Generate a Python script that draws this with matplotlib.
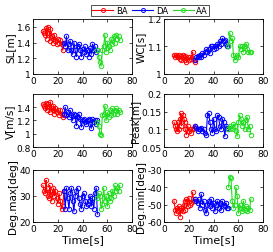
import numpy as np
import matplotlib.pyplot as plt

t_ba = [8, 9, 10, 10.5, 11, 12, 13, 13.5, 14, 15, 16, 16.5, 17, 18, 19, 20, 21, 22, 23, 24, 25]
t_da = [25, 26, 27, 28, 29, 30, 31, 32, 33, 34, 35, 36, 37, 38, 39, 40, 41, 42, 43, 44, 45, 46, 47, 48, 49, 50, 51, 52]
t_aa = [52, 53, 54, 55, 56, 57, 58, 59, 60, 61, 62, 63, 64, 65, 66, 67, 68, 69, 70]

sl_ba = [1.55, 1.52, 1.5, 1.58, 1.45, 1.6, 1.52, 1.42, 1.57, 1.48, 1.45, 1.4, 1.5, 1.42, 1.38, 1.45, 1.4, 1.43, 1.38, 1.3, 1.4]
sl_da = [1.4, 1.35, 1.48, 1.3, 1.38, 1.42, 1.3, 1.25, 1.4, 1.3, 1.22, 1.35, 1.38, 1.3, 1.22, 1.32, 1.28, 1.35, 1.25, 1.3, 1.22, 1.33, 1.25, 1.38, 1.3, 1.35, 1.28, 1.3]
sl_aa = [1.3, 1.22, 1.15, 1.1, 1.3, 1.35, 1.5, 1.28, 1.4, 1.35, 1.3, 1.45, 1.38, 1.48, 1.4, 1.5, 1.45, 1.48, 1.43]

wc_ba = [1.07, 1.06, 1.07, 1.065, 1.06, 1.07, 1.055, 1.065, 1.05, 1.07, 1.06, 1.05, 1.065, 1.045, 1.06, 1.05, 1.06, 1.055, 1.08, 1.05, 1.045]
wc_da = [1.05, 1.06, 1.065, 1.06, 1.07, 1.06, 1.075, 1.07, 1.08, 1.09, 1.08, 1.09, 1.075, 1.1, 1.1, 1.09, 1.1, 1.095, 1.11, 1.1, 1.12, 1.11, 1.13, 1.12, 1.125, 1.11, 1.1, 1.1]
wc_aa = [1.1, 1.15, 1.12, 1.13, 1.07, 1.05, 1.06, 1.07, 1.06, 1.1, 1.09, 1.1, 1.08, 1.1, 1.11, 1.09, 1.08, 1.08, 1.08]

v_ba = [1.45, 1.42, 1.38, 1.47, 1.35, 1.45, 1.4, 1.32, 1.48, 1.38, 1.35, 1.42, 1.3, 1.38, 1.33, 1.35, 1.28, 1.35, 1.3, 1.25, 1.28]
v_da = [1.3, 1.4, 1.28, 1.32, 1.25, 1.35, 1.28, 1.2, 1.3, 1.28, 1.12, 1.25, 1.3, 1.22, 1.1, 1.2, 1.22, 1.18, 1.15, 1.2, 1.22, 1.15, 1.08, 1.22, 1.18, 1.2, 1.15, 1.2]
v_aa = [1.18, 1.12, 1.0, 0.98, 1.28, 1.3, 1.42, 1.2, 1.32, 1.25, 1.35, 1.28, 1.38, 1.3, 1.35, 1.38, 1.3, 1.35, 1.33]

pk_ba = [0.12, 0.11, 0.1, 0.095, 0.12, 0.1, 0.13, 0.145, 0.11, 0.14, 0.13, 0.12, 0.1, 0.085, 0.11, 0.095, 0.1, 0.09, 0.1, 0.105, 0.11]
pk_da = [0.11, 0.105, 0.095, 0.1, 0.1, 0.105, 0.095, 0.1, 0.09, 0.085, 0.14, 0.145, 0.12, 0.1, 0.09, 0.13, 0.1, 0.095, 0.14, 0.135, 0.11, 0.1, 0.13, 0.12, 0.08, 0.11, 0.105, 0.1]
pk_aa = [0.1, 0.11, 0.105, 0.1, 0.115, 0.11, 0.095, 0.08, 0.12, 0.14, 0.13, 0.11, 0.12, 0.1, 0.125, 0.135, 0.1, 0.11, 0.085]

dmax_ba = [34, 32, 31, 36, 33, 30, 29, 34, 32, 28, 31, 33, 30, 32, 29, 27, 31, 28, 25, 26, 32]
dmax_da = [32, 25, 33, 29, 25, 31, 33, 28, 24, 30, 32, 33, 29, 27, 25, 30, 31, 28, 26, 27, 28, 30, 26, 29, 25, 31, 33, 23]
dmax_aa = [29, 31, 30, 25, 27, 33, 28, 30, 26, 31, 28, 29, 32, 30, 34, 32, 33, 32, 34]

dmin_ba = [-48, -53, -55, -52, -54, -51, -57, -53, -52, -54, -50, -53, -48, -47, -51, -46, -50, -49, -43, -48, -47]
dmin_da = [-47, -48, -49, -47, -52, -44, -50, -48, -53, -55, -50, -48, -51, -47, -52, -49, -54, -50, -48, -52, -49, -53, -48, -50, -51, -49, -52, -52]
dmin_aa = [-40, -34, -35, -48, -52, -50, -40, -45, -55, -50, -52, -54, -48, -53, -51, -54, -52, -53, -47]

panels = [
    ('SL[m]', sl_ba, sl_da, sl_aa, (1, 1.7), [1, 1.2, 1.4, 1.6], ['1', '1.2', '1.4', '1.6']),
    ('WC[s]', wc_ba, wc_da, wc_aa, (1, 1.2), [1, 1.1, 1.2], ['1', '1.1', '1.2']),
    ('V[m/s]', v_ba, v_da, v_aa, (0.8, 1.6), [0.8, 1, 1.2, 1.4], ['0.8', '1', '1.2', '1.4']),
    ('Peak[m]', pk_ba, pk_da, pk_aa, (0.05, 0.2), [0.05, 0.1, 0.15, 0.2], ['0.05', '0.1', '0.15', '0.2']),
    ('Deg.max[deg]', dmax_ba, dmax_da, dmax_aa, (20, 40), [20, 30, 40], ['20', '30', '40']),
    ('Deg.min[deg]', dmin_ba, dmin_da, dmin_aa, (-60, -30), [-60, -50, -40, -30], ['-60', '-50', '-40', '-30']),
]

lefts = [0.121, 0.601]
bottoms = [0.704, 0.415, 0.119]
heights = [0.217, 0.21, 0.206]
w = 0.363

fig = plt.figure(figsize=(2.73, 2.53), dpi=100)
handles = []
for i, (lab, yb, yd, ya, yl, yt, ytl) in enumerate(panels):
    r, c = i // 2, i % 2
    ax = fig.add_axes([lefts[c], bottoms[r], w, heights[r]])
    kw = dict(marker='o', mfc='none', ms=3.2, lw=0.8, mew=0.7)
    h1, = ax.plot(t_ba, yb, color='red', label='BA', **kw)
    h2, = ax.plot(t_da, yd, color='blue', label='DA', **kw)
    h3, = ax.plot(t_aa, ya, color='#22dd22', label='AA', **kw)
    handles = [h1, h2, h3]
    ax.set_xlim(0, 80)
    ax.set_xticks([0, 20, 40, 60, 80])
    ax.set_ylim(*yl)
    ax.set_yticks(yt)
    ax.set_yticklabels(ytl)
    ax.tick_params(direction='in', labelsize=6.5, length=2, width=0.5, pad=1.5,
                   top=True, right=True)
    for s in ax.spines.values():
        s.set_linewidth(0.6)
    ax.set_ylabel(lab, fontsize=7.5, labelpad=1)
    if r == 2:
        ax.set_xlabel('Time[s]', fontsize=8, labelpad=1)

leg = fig.legend(handles, ['BA', 'DA', 'AA'], loc='center', bbox_to_anchor=(0.55, 0.955),
                 ncol=3, fontsize=6, frameon=True, fancybox=False, edgecolor='black',
                 handlelength=2.5, handletextpad=0.3, columnspacing=0.6,
                 borderpad=0.15, markerscale=0.9)
leg.get_frame().set_linewidth(0.6)

fig.savefig('out.png', dpi=100)
